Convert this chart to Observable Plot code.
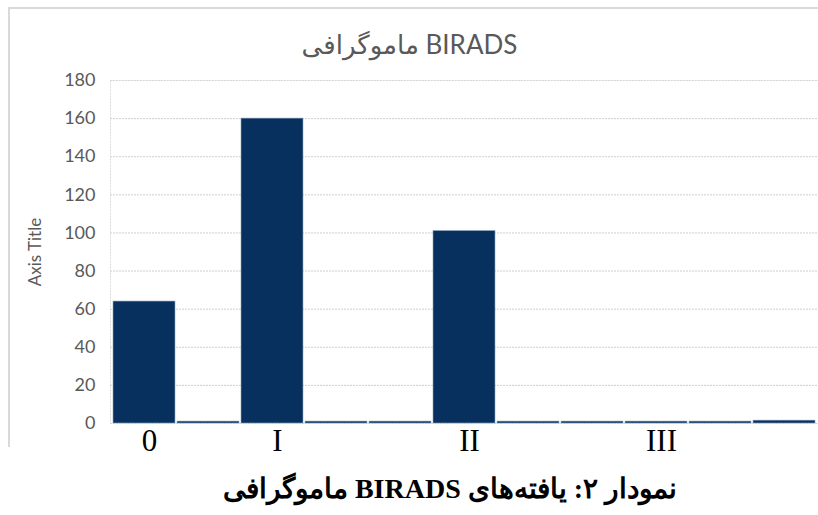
<!DOCTYPE html>
<html>
<head>
<meta charset="utf-8">
<script src="https://cdn.jsdelivr.net/npm/d3@7"></script>
<script src="https://cdn.jsdelivr.net/npm/@observablehq/plot@0.6"></script>
<style>
  html, body { margin: 0; padding: 0; background: #fff; width: 818px; height: 515px; overflow: hidden; }
  #wrap { position: relative; width: 818px; height: 515px; }
  #box { position: absolute; left: 8px; top: 7px; width: 830px; height: 440px; border: 2px solid #d9d9d9; border-bottom: none; box-sizing: border-box; pointer-events: none; }
  #chart { position: absolute; left: 0; top: 0; }
  #caption { position: absolute; left: 0; top: 472px; width: 900px; text-align: center; direction: rtl;
    font-family: "Liberation Serif", "DejaVu Serif", serif; font-weight: bold; font-size: 28px; color: #000; }
</style>
</head>
<body>
<div id="wrap">
  <div id="box"></div>
  <div id="chart"></div>
  <div id="caption">نمودار ۲: یافته‌های BIRADS ماموگرافی</div>
</div>
<script>
const chartTitle = "ماموگرافی BIRADS";
const yAxisTitle = "Axis Title";
const categories = [0, 1, 2, 3, 4, 5, 6, 7, 8, 9, 10];
const tickLabels = ["0", "", "I", "", "", "II", "", "", "III", "", ""];
const values = [64, 1, 160, 1, 1, 101, 1, 1, 1, 1, 1.5];
const yTicks = [0, 20, 40, 60, 80, 100, 120, 140, 160, 180];

const data = categories.map((c, i) => ({cat: c, value: values[i]}));

const plot = Plot.plot({
  width: 818,
  height: 470,
  marginLeft: 110,
  marginRight: 0,
  marginTop: 80,
  marginBottom: 47,
  style: {background: "transparent", overflow: "visible"},
  x: {domain: categories, paddingInner: 0.035, paddingOuter: 0.0},
  y: {domain: [0, 180]},
  marks: [
    Plot.gridY(yTicks, {stroke: "#cfcfcf", strokeOpacity: 1, strokeDasharray: "2,1"}),
    Plot.frame({stroke: "#dcdcdc", strokeDasharray: "2,1"}),
    Plot.barY(data, {x: "cat", y: "value", fill: "#07305f", stroke: "#8ea3bd", strokeWidth: 0.6}),
    Plot.axisY({ticks: yTicks, tickSize: 0, tickPadding: 15, label: null,
      fontSize: 18, fill: "#595959", fontFamily: "Lato, 'DejaVu Sans', sans-serif"}),
    Plot.text([yAxisTitle], {frameAnchor: "left", rotate: -90, dx: -75, fontSize: 17, fill: "#595959",
      fontFamily: "Lato, 'DejaVu Sans', sans-serif", textAnchor: "middle"}),
    Plot.axisX({tickSize: 0, tickPadding: 5, label: null, dx: 5,
      tickFormat: (d) => tickLabels[d], fontSize: 31, fill: "#000",
      fontFamily: "'Liberation Serif', 'DejaVu Serif', serif"}),
    Plot.text([chartTitle], {frameAnchor: "top", dy: -45, dx: -55, fontSize: 26, fill: "#595959",
      fontFamily: "Lato, 'DejaVu Sans', sans-serif", textAnchor: "middle"})
  ]
});
document.getElementById("chart").appendChild(plot);
</script>
</body>
</html>
